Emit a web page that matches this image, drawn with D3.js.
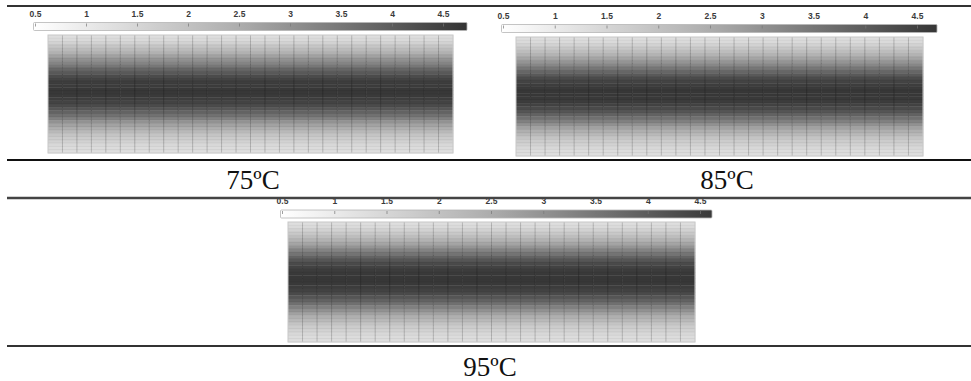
<!DOCTYPE html>
<html>
<head>
<meta charset="utf-8">
<script src="https://cdn.jsdelivr.net/npm/d3@7"></script>
<style>
  body { margin: 0; background: #fff; }
  svg { display: block; }
</style>
</head>
<body>
<div id="chart"></div>
<script>
// colorbar ticks shared by all three maps
const ticks = [0.5, 1, 1.5, 2, 2.5, 3, 3.5, 4, 4.5]

// value of each grid row, top to bottom (the columns repeat the same profile)
const rows75 = [1.3, 1.4, 1.6, 1.9, 2.15, 2.4, 2.7, 3.0, 3.25, 3.5, 3.8, 4.05,
                4.3, 4.45, 4.55, 4.6, 4.65, 4.65, 4.62, 4.55, 4.45, 4.3, 4.1, 3.85,
                3.6, 3.3, 3.0, 2.7, 2.45, 2.2, 1.95, 1.75, 1.6, 1.45, 1.35, 1.3]
const rows85 = [1.3, 1.4, 1.6, 1.85, 2.1, 2.35, 2.65, 2.95, 3.2, 3.5, 3.8, 4.05,
                4.3, 4.45, 4.55, 4.62, 4.66, 4.66, 4.63, 4.57, 4.47, 4.32, 4.12, 3.88,
                3.62, 3.32, 3.02, 2.72, 2.45, 2.2, 1.95, 1.75, 1.6, 1.45, 1.35, 1.3]
const rows95 = [1.3, 1.4, 1.6, 1.85, 2.1, 2.35, 2.65, 2.95, 3.25, 3.55, 3.85, 4.1,
                4.32, 4.47, 4.57, 4.63, 4.67, 4.67, 4.63, 4.57, 4.47, 4.32, 4.12, 3.88,
                3.62, 3.32, 3.02, 2.72, 2.45, 2.2, 1.95, 1.75, 1.6, 1.45, 1.35, 1.3]
const nCols = 28
const labels = ["75ºC", "85ºC", "95ºC"]

const width = 971, height = 381

const color = d3.scaleLinear()
                .domain([0.5, 2.5, 4.74])
                .range(["#ffffff", "#adadad", "#333333"])
                .clamp(true)

const svg = d3.select("#chart")
              .append("svg")
                .attr("width", width)
                .attr("height", height)
const defs = svg.append("defs")

// panel placement
const panels = [
  { rows: rows75, label: labels[0], bar: [35, 443], barEnd: 467, barY: 22.5, gx: [48, 453], gy: [35, 153], lx: 253, ly: 189 },
  { rows: rows85, label: labels[1], bar: [503, 917], barEnd: 937, barY: 24.5, gx: [516, 923], gy: [37, 156], lx: 727, ly: 189 },
  { rows: rows95, label: labels[2], bar: [282, 700], barEnd: 712, barY: 210, gx: [288, 695], gy: [222, 342], lx: 490, ly: 376 }
]

panels.forEach((p, i) => {
  const g = svg.append("g")

  // colorbar
  const x = d3.scaleLinear().domain([0.5, 4.5]).range(p.bar)
  const x0 = x(0.5) - 1.5
  const grad = defs.append("linearGradient").attr("id", "bar-grad-" + i)
  grad.selectAll("stop")
      .data(d3.range(0, 1.0001, 0.05))
      .enter().append("stop")
        .attr("offset", d => d)
        .attr("stop-color", d => color(x.invert(x0 + d * (p.barEnd - x0))))

  g.append("rect")
      .attr("x", x0)
      .attr("y", p.barY)
      .attr("width", p.barEnd - x0)
      .attr("height", 8)
      .attr("rx", 1)
      .attr("fill", "url(#bar-grad-" + i + ")")
      .attr("stroke", "#b5b5b5")
      .attr("stroke-width", 0.8)

  const axis = d3.axisTop(x).tickValues(ticks).tickSize(0).tickPadding(6)
                 .tickFormat(d3.format("~g"))
  const ag = g.append("g")
      .attr("transform", "translate(0," + p.barY + ")")
      .call(axis)
  ag.select(".domain").remove()
  ag.selectAll("text")
      .attr("font-family", "Liberation Sans, Arial, sans-serif")
      .attr("font-size", 8.5)
      .attr("font-weight", "bold")
      .attr("fill", "#3a3a3a")
  ag.selectAll(".tick").append("line")
      .attr("y1", 1).attr("y2", 4)
      .attr("stroke", "#777")
      .attr("stroke-width", 0.7)

  // grid of cells
  const xs = d3.scaleBand().domain(d3.range(nCols)).range(p.gx)
  const ys = d3.scaleBand().domain(d3.range(p.rows.length)).range(p.gy)

  const cells = []
  p.rows.forEach((v, r) => {
    for (let c = 0; c < nCols; c++) cells.push({ r: r, c: c, v: v })
  })

  g.selectAll("rect.cell")
    .data(cells)
    .enter().append("rect")
      .attr("class", "cell")
      .attr("x", d => xs(d.c))
      .attr("y", d => ys(d.r))
      .attr("width", xs.bandwidth() + 0.3)
      .attr("height", ys.bandwidth() + 0.3)
      .attr("fill", d => color(d.v))

  // row lines
  g.selectAll("line.row")
    .data(d3.range(1, p.rows.length))
    .enter().append("line")
      .attr("x1", p.gx[0]).attr("x2", p.gx[1])
      .attr("y1", d => ys(d)).attr("y2", d => ys(d))
      .attr("stroke", "#000")
      .attr("stroke-opacity", 0.08)
      .attr("stroke-width", 0.8)

  // column lines
  g.selectAll("line.col")
    .data(d3.range(1, nCols))
    .enter().append("line")
      .attr("y1", p.gy[0]).attr("y2", p.gy[1])
      .attr("x1", d => xs(d)).attr("x2", d => xs(d))
      .attr("stroke", "#000")
      .attr("stroke-opacity", 0.2)
      .attr("stroke-width", 1)

  g.append("rect")
      .attr("x", p.gx[0]).attr("y", p.gy[0])
      .attr("width", p.gx[1] - p.gx[0])
      .attr("height", p.gy[1] - p.gy[0])
      .attr("fill", "none")
      .attr("stroke", "#c8c8c8")
      .attr("stroke-width", 1)

  // temperature label
  g.append("text")
      .text(p.label)
      .attr("x", p.lx)
      .attr("y", p.ly)
      .attr("text-anchor", "middle")
      .attr("font-family", "Liberation Serif, Times New Roman, serif")
      .attr("font-size", 27)
      .attr("fill", "#111")
})

// table rules
const rules = [
  { y: 6, w: 2, c: "#333" },
  { y: 160, w: 2, c: "#111" },
  { y: 198, w: 2.5, c: "#444" },
  { y: 346, w: 2, c: "#333" }
]
svg.selectAll("line.rule")
  .data(rules)
  .enter().append("line")
    .attr("x1", 7).attr("x2", width)
    .attr("y1", d => d.y).attr("y2", d => d.y)
    .attr("stroke", d => d.c)
    .attr("stroke-width", d => d.w)
</script>
</body>
</html>
